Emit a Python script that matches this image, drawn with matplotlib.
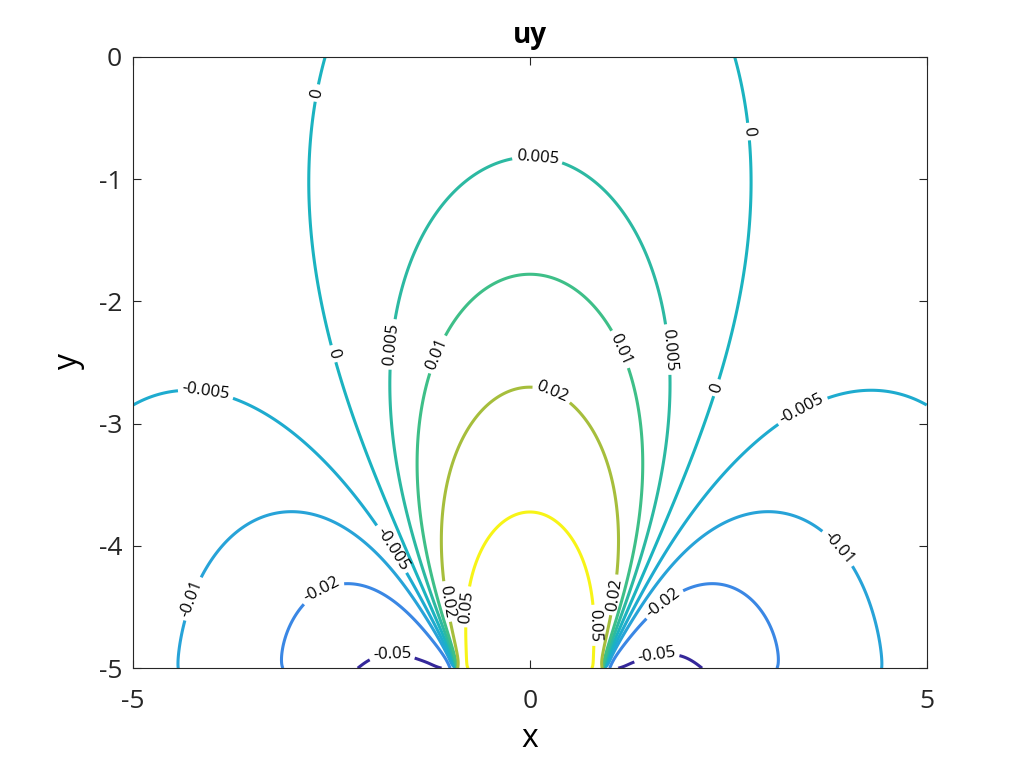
import numpy as np
import matplotlib
matplotlib.use('Agg')
import matplotlib.pyplot as plt

plt.rcParams['font.family'] = ['Open Sans', 'DejaVu Sans']
plt.rcParams['axes.unicode_minus'] = False

# uy along the bottom edge y = -5 (symmetric in x)
bnd_x = [0.0, 0.2, 0.4, 0.6, 0.78, 0.91, 0.93, 1.01, 1.11, 1.3, 1.6, 1.9,
         2.17, 2.6, 3.11, 3.7, 4.43, 5.2, 6.5, 8.0, 11.0, 16.0, 25.0, 40.0]
bnd_uy = [0.30, 0.26, 0.19, 0.11, 0.05, 0.03, -0.012, -0.02, -0.05, -0.058,
          -0.062, -0.058, -0.05, -0.033, -0.02, -0.014, -0.01, -0.0072,
          -0.0046, -0.003, -0.0016, -0.0008, -0.0003, 0.0]

# second (depth dependent) part of the field
depth_amp = 0.0042
depth_width = 2.5

levels = [-0.05, -0.02, -0.01, -0.005, 0, 0.005, 0.01, 0.02, 0.05]
level_colors = ['#35289a', '#3a87e4', '#27a3d8', '#1eabcf', '#1bb3c0',
                '#2cb9a2', '#3ebf88', '#a6be3c', '#f7f417']

y_bottom = -5.0

# harmonic extension (Poisson integral) of the piecewise linear edge profile
s = np.concatenate([-np.array(bnd_x[:0:-1]), np.array(bnd_x)])
f = np.concatenate([np.array(bnd_uy[:0:-1]), np.array(bnd_uy)])

xg = np.linspace(-5, 5, 501)
yg = np.linspace(-5, 0, 301)
X, Y = np.meshgrid(xg, yg)
H = np.maximum(Y - y_bottom, 1e-9)
U = np.zeros_like(X)
for k in range(len(s) - 1):
    m = (f[k + 1] - f[k]) / (s[k + 1] - s[k])
    t0 = s[k] - X
    t1 = s[k + 1] - X
    a = f[k] + m * (X - s[k])
    U += a * (np.arctan(t1 / H) - np.arctan(t0 / H))
    U += m * H / 2 * (np.log(t1**2 + H**2) - np.log(t0**2 + H**2))
U /= np.pi
Hw = H + depth_width
U -= depth_amp * H * Hw / (X**2 + Hw**2)

fig = plt.figure(figsize=(10.24, 7.68), dpi=100)
ax = fig.add_axes([0.130, 0.130, 0.775, 0.796])

cs = ax.contour(X, Y, U, levels=levels, colors=level_colors, linewidths=2.2)

label_pos = [(-2.9, -0.27), (-2.37, -2.41), (-1.61, -2.36), (-1.07, -2.46),
             (0.1, -0.78), (0.25, -2.79), (-4.06, -2.63), (-4.26, -4.43),
             (-2.67, -4.30), (-1.74, -4.81), (-0.77, -4.50), (-1.8, -4.05),
             (2.93, -0.6), (2.22, -2.68), (1.64, -2.40), (1.11, -2.40),
             (3.40, -2.85), (3.88, -4.02), (1.64, -4.43), (1.57, -4.81),
             (0.79, -4.65), (1.05, -4.4), (-1.0, -4.45)]
ax.clabel(cs, levels, fmt='%g', fontsize=12, inline=True,
          inline_spacing=4, manual=label_pos, colors='k')

ax.set_xlim(-5, 5)
ax.set_ylim(-5, 0)
ax.set_xticks([-5, 0, 5])
ax.set_yticks([0, -1, -2, -3, -4, -5])
ax.tick_params(direction='in', top=True, right=True, labelsize=19,
               length=6, width=0.8, colors='#262626')
ax.tick_params(axis='x', pad=15)
ax.tick_params(axis='y', pad=8)
for sp in ax.spines.values():
    sp.set_color('#262626')
    sp.set_linewidth(0.8)

ax.set_title('uy', fontsize=20, fontweight='bold', pad=10)
ax.set_xlabel('x', fontsize=23, labelpad=6)
ax.set_ylabel('y', fontsize=23, labelpad=10)

fig.savefig('out.png', dpi=100)
